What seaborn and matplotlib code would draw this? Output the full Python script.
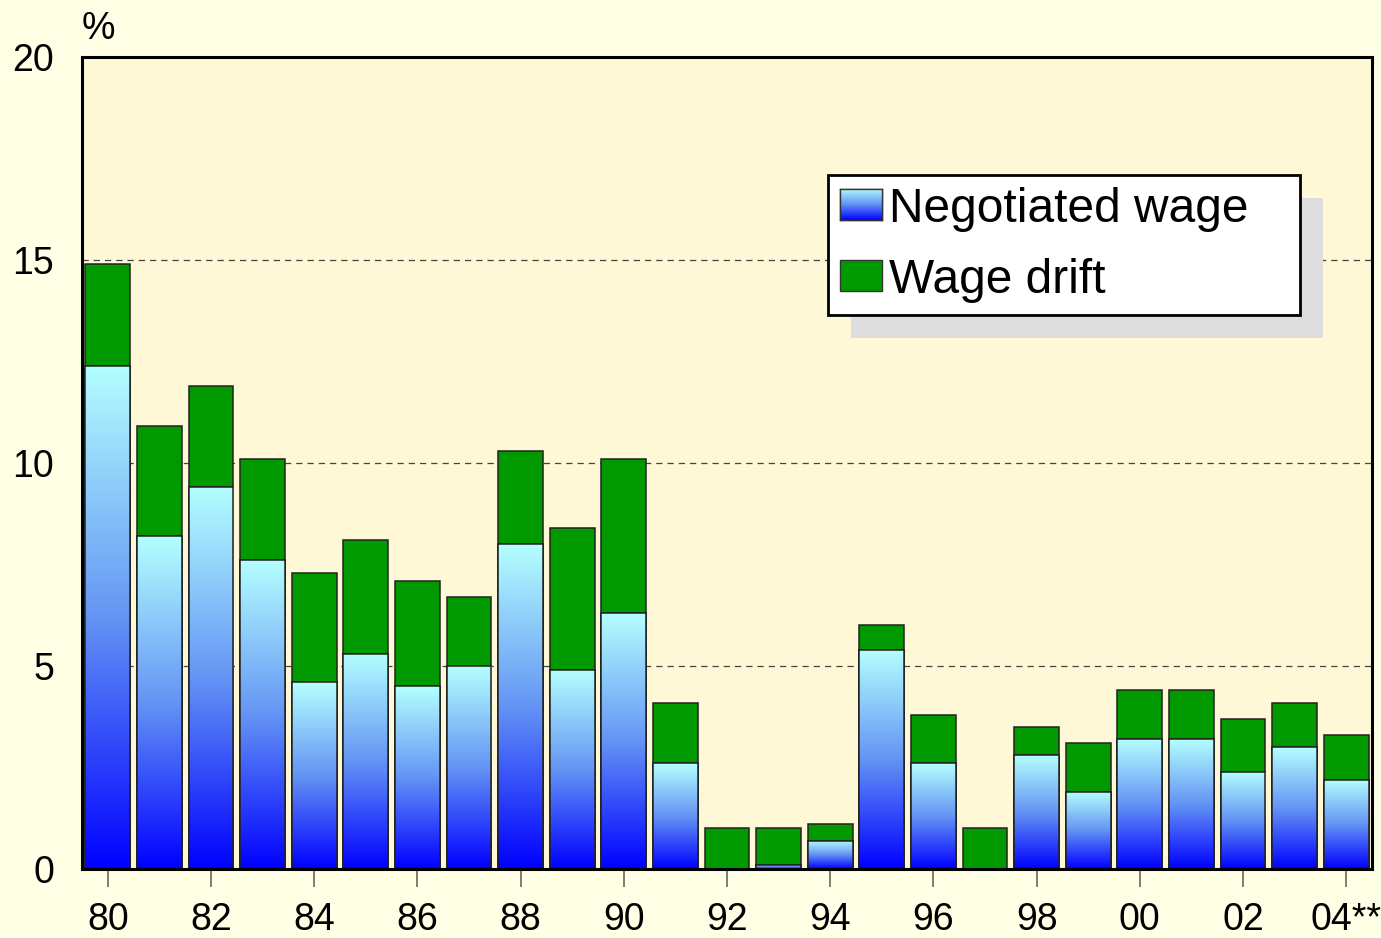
import matplotlib
matplotlib.use("Agg")
import matplotlib.pyplot as plt
import matplotlib.patches as mpatches
import numpy as np
import pandas as pd
import seaborn as sns

# data
years = ["80", "81", "82", "83", "84", "85", "86", "87", "88", "89", "90", "91", "92",
         "93", "94", "95", "96", "97", "98", "99", "00", "01", "02", "03", "04**"]
negotiated = [12.4, 8.2, 9.4, 7.6, 4.6, 5.3, 4.5, 5.0, 8.0, 4.9, 6.3, 2.6, 0.0,
              0.1, 0.7, 5.4, 2.6, 0.0, 2.8, 1.9, 3.2, 3.2, 2.4, 3.0, 2.2]
total = [14.9, 10.9, 11.9, 10.1, 7.3, 8.1, 7.1, 6.7, 10.3, 8.4, 10.1, 4.1, 1.0,
         1.0, 1.1, 6.0, 3.8, 1.0, 3.5, 3.1, 4.4, 4.4, 3.7, 4.1, 3.3]
yticks = [0, 5, 10, 15, 20]

df = pd.DataFrame({"year": years, "neg": negotiated, "total": total})

fig_bg = "#FFFFE6"
ax_bg = "#FFF8D6"
green = "#009900"
grad_cmap = matplotlib.colors.LinearSegmentedColormap.from_list("g", ["#0000FF", "#6494F4", "#B4FFFF"])

sns.set_style("white")
plt.rcParams["font.family"] = ["Liberation Sans", "DejaVu Sans"]
plt.rcParams["text.color"] = "black"
plt.rcParams["xtick.color"] = "black"
plt.rcParams["ytick.color"] = "black"

fig = plt.figure(figsize=(13.81, 9.38), dpi=100, facecolor=fig_bg)
ax = fig.add_axes([0.0594, 0.0736, 0.9341, 0.8656])
ax.set_facecolor(ax_bg)

# wage drift bar (full height) then negotiated on top of it
sns.barplot(data=df, x="year", y="total", order=years, color=green, saturation=1,
            width=0.87, edgecolor="#222222", linewidth=1.1, ax=ax, zorder=2)
n_green = len(ax.patches)
sns.barplot(data=df, x="year", y="neg", order=years, color="#0000FF", saturation=1,
            width=0.87, edgecolor="#222222", linewidth=1.1, ax=ax, zorder=3)
blue_bars = ax.patches[n_green:]

# vertical gradient inside each negotiated bar
grad = np.linspace(0, 1, 256).reshape(-1, 1)
for p in blue_bars:
    h = p.get_height()
    if h <= 0:
        continue
    x0 = p.get_x()
    im = ax.imshow(grad, extent=[x0, x0 + p.get_width(), 0, h], origin="lower",
                   aspect="auto", cmap=grad_cmap, zorder=3.5)
    im.set_clip_path(p)
    # redraw edge above the image
    ax.add_patch(mpatches.Rectangle((x0, 0), p.get_width(), h, fill=False,
                                    edgecolor="#222222", linewidth=1.1, zorder=4))

ax.set_xlim(-0.5, 24.5)
ax.set_ylim(0, 20)
ax.set_yticks(yticks)
ax.set_yticklabels([str(t) for t in yticks], fontsize=27)
ax.set_xticks(range(0, 25, 2))
ax.set_xticklabels([years[i] for i in range(0, 25, 2)], fontsize=27)
ax.tick_params(axis="y", left=False, length=0, pad=20)
ax.tick_params(axis="x", bottom=True, length=13, width=1.2, color="#666666",
               labelcolor="black", pad=11, direction="out")
ax.set_xlabel("")
ax.set_ylabel("")

for y in [5, 10, 15]:
    ax.axhline(y, color="#444444", linestyle=(0, (5, 4)), linewidth=0.9, zorder=1)

for s in ax.spines.values():
    s.set_visible(True)
    s.set_color("black")
    s.set_linewidth(2.2)
    s.set_zorder(6)

fig.text(0.071, 0.969, "%", fontsize=27, ha="center", va="center")

# legend with gradient swatch and offset shadow
handles = [mpatches.Patch(facecolor="#0000FF", edgecolor="#333333", label="Negotiated wage"),
           mpatches.Patch(facecolor=green, edgecolor="#333333", label="Wage drift")]
leg = ax.legend(handles=handles, loc="upper left", bbox_to_anchor=(0.578, 0.5, 0.366, 0.355),
                mode="expand", fontsize=34.5, frameon=True, fancybox=False, edgecolor="black",
                framealpha=1, handlelength=0.88, handleheight=0.62, handletextpad=0.15,
                borderpad=0.25, labelspacing=0.54, borderaxespad=0)
leg.get_frame().set_linewidth(2)
leg.set_zorder(8)

fig.canvas.draw()
fb = leg.get_frame().get_window_extent()
W, H = fig.bbox.width, fig.bbox.height
shadow = mpatches.Rectangle(((fb.x0 + 23) / W, (fb.y0 - 23) / H), fb.width / W, fb.height / H,
                            transform=fig.transFigure, facecolor="#DDDDDD", edgecolor="none",
                            zorder=7)
ax.add_artist(shadow)
shadow.set_transform(fig.transFigure)
shadow.set_clip_on(False)

hb = leg.legend_handles[0].get_window_extent()
sw = fig.add_axes([hb.x0 / W, hb.y0 / H, hb.width / W, hb.height / H], zorder=20)
sw.imshow(grad, origin="lower", aspect="auto", cmap=grad_cmap, extent=[0, 1, 0, 1])
sw.set_xticks([])
sw.set_yticks([])
for s in sw.spines.values():
    s.set_color("#333333")
    s.set_linewidth(1)

plt.savefig("out.png", dpi=100, facecolor=fig_bg)
plt.close(fig)
